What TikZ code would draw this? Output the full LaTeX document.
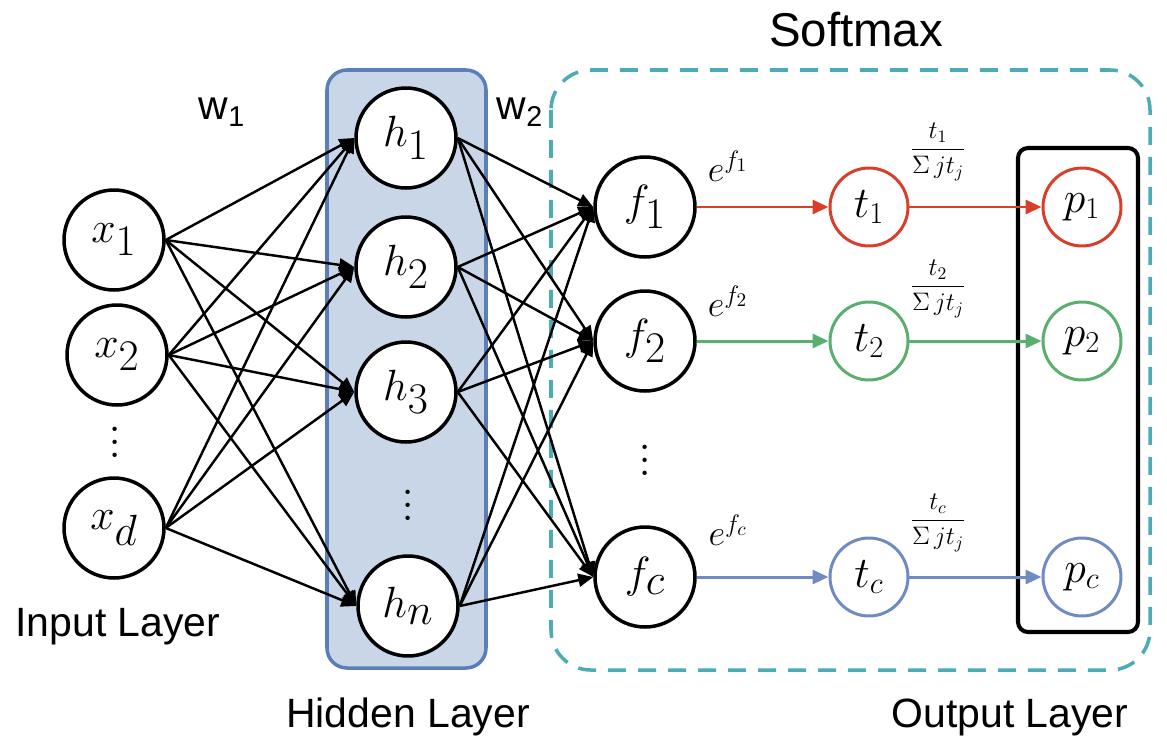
\documentclass[tikz,border=0pt]{standalone}
\usepackage{amsmath}
\usepackage{fontspec}
\newfontfamily\labelfont{Liberation Sans}
\usetikzlibrary{arrows.meta,backgrounds}
\definecolor{hidfill}{RGB}{201,214,231}
\definecolor{hidline}{RGB}{91,126,185}
\definecolor{softteal}{RGB}{75,172,180}
\definecolor{redc}{RGB}{215,63,42}
\definecolor{greenc}{RGB}{90,175,110}
\definecolor{bluec}{RGB}{112,138,196}
\newcommand{\bigvdots}{\vbox{\baselineskip=7.4pt\lineskiplimit=-100pt\hbox{.}\hbox{.}\hbox{.}}}
\tikzset{
  neuron/.style={circle, draw=black, line width=2pt, fill=white, minimum size=2cm,
    inner sep=0pt, font=\fontsize{33}{38}\selectfont},
  pnode/.style={circle, line width=1.7pt, fill=white, minimum size=1.56cm,
    inner sep=0pt, font=\fontsize{23}{27}\selectfont},
  layerlab/.style={font=\labelfont\fontsize{23.3}{28}\selectfont},
  elab/.style={font=\fontsize{21}{25}\selectfont},
  fraclab/.style={font=\fontsize{14.5}{17}\selectfont},
  dotsnode/.style={font=\fontsize{30}{7.4}\selectfont, inner sep=0pt},
  edge/.style={-{Triangle[length=0.3cm, width=0.26cm]}, line width=1.4pt, draw=black},
  cedge/.style={-{Triangle[length=0.32cm, width=0.28cm]}, line width=1.7pt},
}

\begin{document}
\begin{tikzpicture}[x=0.02cm, y=-0.02cm]
  \useasboundingbox (0,0) rectangle (1167,751);
  % input layer
  \node[neuron] (x1) at (114,240) {$x_1$};
  \node[neuron] (x2) at (117,355) {$x_2$};
  \node[dotsnode] (dx) at (115,442) {\bigvdots};
  \node[neuron] (xd) at (114,528) {$x_d$};
  \node[layerlab] (inlab) at (118,627) {Input Layer};
  % hidden layer
  \node[neuron] (h1) at (406,138) {$h_1$};
  \node[neuron] (h2) at (406,267) {$h_2$};
  \node[neuron] (h3) at (406,392) {$h_3$};
  \node[dotsnode] (dh) at (408,505) {\bigvdots};
  \node[neuron] (hn) at (408,606) {$h_n$};
  \node[layerlab] (hidlab) at (408,717) {Hidden Layer};
  \node[layerlab] (w1lab) at (222,112) {w\textsubscript{1}};
  \node[layerlab] (w2lab) at (520,112) {w\textsubscript{2}};
  % softmax part
  \node[neuron] (f1) at (645,207) {$f_1$};
  \node[neuron] (f2) at (645,341) {$f_2$};
  \node[dotsnode] (df) at (645,460) {\bigvdots};
  \node[neuron] (fc) at (645,577) {$f_c$};
  \node[pnode, draw=redc] (t1) at (869,207) {$t_1$};
  \node[pnode, draw=greenc] (t2) at (869,341) {$t_2$};
  \node[pnode, draw=bluec] (tc) at (869,577) {$t_c$};
  \node[pnode, draw=redc] (p1) at (1082,207) {$p_1$};
  \node[pnode, draw=greenc] (p2) at (1082,341) {$p_2$};
  \node[pnode, draw=bluec] (pc) at (1082,577) {$p_c$};
  \node[elab] (e1) at (728,166) {$e^{f_1}$};
  \node[elab] (e2) at (728,301) {$e^{f_2}$};
  \node[elab] (ec) at (728,530) {$e^{f_c}$};
  \node[fraclab] (q1) at (938,152) {$\dfrac{t_1}{\Sigma\, j t_j}$};
  \node[fraclab] (q2) at (938,289) {$\dfrac{t_2}{\Sigma\, j t_j}$};
  \node[fraclab] (qc) at (938,523) {$\dfrac{t_c}{\Sigma\, j t_j}$};
  \node[layerlab, font=\labelfont\fontsize{27}{32}\selectfont] (smlab) at (856,30) {Softmax};
  \node[layerlab] (outlab) at (1010,717) {Output Layer};
  \begin{scope}[on background layer]
    \draw[hidline, fill=hidfill, line width=2pt, rounded corners=0.4cm] (327,70) rectangle (486,668);
  \end{scope}
  \draw[softteal, line width=2pt, dash pattern=on 0.36cm off 0.24cm, rounded corners=0.8cm] (551,70) rectangle (1150,670);
  \draw[black, line width=2.3pt, rounded corners=0.2cm] (1018,148) rectangle (1138,632);
  % weights
  \foreach \i in {1,2,d}
    \foreach \j in {1,2,3,n}
      \draw[edge] (x\i.east) -- (h\j.west);
  \foreach \j in {1,2,3,n}
    \foreach \k in {1,2,c}
      \draw[edge] (h\j.east) -- (f\k.west);
  \foreach \k/\col in {1/redc, 2/greenc, c/bluec} {
    \draw[cedge, \col] (f\k) -- (t\k);
    \draw[cedge, \col] (t\k) -- (p\k);
  }
\end{tikzpicture}
\end{document}
